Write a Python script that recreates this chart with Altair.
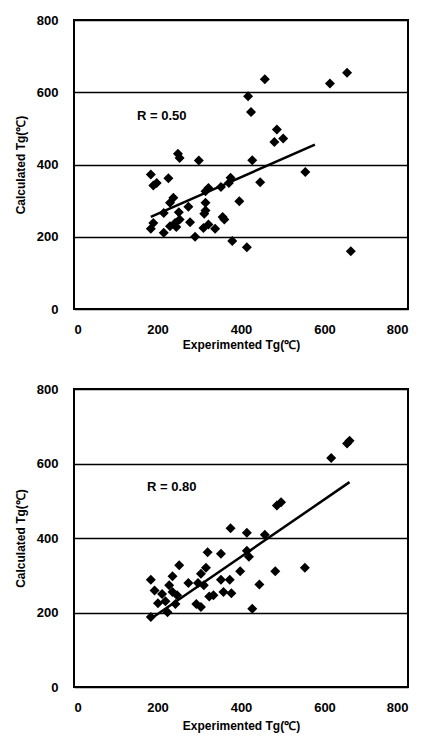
import altair as alt
import pandas as pd

# Top panel (R = 0.50)
top_x = [457, 613, 654, 417, 424, 486, 480, 501, 249, 253, 299, 427, 554, 184, 226, 190,
         198, 375, 371, 446, 352, 322, 315, 396, 238, 230, 274, 315, 315, 312, 215, 251,
         356, 360, 278, 253, 242, 230, 245, 190, 184, 322, 310, 338, 215, 290, 379, 414, 663]
top_y = [636, 624, 654, 589, 545, 497, 462, 472, 430, 418, 411, 412, 379, 372, 362, 342,
         349, 363, 349, 351, 338, 335, 326, 298, 308, 294, 283, 294, 273, 264, 266, 268,
         255, 248, 240, 248, 238, 229, 227, 238, 222, 234, 224, 222, 211, 200, 188, 171, 160]
top_line_x = [184, 577]
top_line_y = [255, 455]

# Bottom panel (R = 0.80)
bot_x = [660, 654, 616, 496, 486, 375, 414, 457, 320, 352, 414, 419, 252, 316, 304, 398,
         482, 553, 184, 236, 228, 274, 297, 352, 373, 444, 193, 211, 236, 247, 358, 377,
         219, 243, 324, 334, 293, 304, 224, 184, 427, 311, 201]
bot_y = [661, 654, 615, 496, 487, 426, 414, 409, 362, 358, 366, 350, 327, 320, 304, 311,
         311, 320, 288, 297, 273, 279, 279, 288, 288, 275, 259, 250, 255, 246, 255, 252,
         230, 223, 243, 246, 223, 215, 201, 188, 210, 273, 225]
bot_line_x = [184, 660]
bot_line_y = [183, 550]

ticks = [0, 200, 400, 600, 800]
x_title = "Experimented Tg(℃)"
y_title = "Calculated Tg(℃)"
labels_r = ["R = 0.50", "R = 0.80"]
label_pos_x = [151, 175]
label_pos_y = [534, 536]

FONT = "Liberation Sans"


def panel(xs, ys, lx, ly, rtext, rx, ry, w, h, x_title_pad):
    pts = pd.DataFrame({"x": xs, "y": ys})
    ln = pd.DataFrame({"x": lx, "y": ly})
    txt = pd.DataFrame({"x": [rx], "y": [ry], "t": [rtext]})
    xsc = alt.Scale(domain=[0, 800], nice=False)
    ysc = alt.Scale(domain=[0, 800], nice=False)
    xax = alt.Axis(values=ticks, title=x_title, grid=False, ticks=False, domain=False,
                   labelPadding=14, titlePadding=x_title_pad, labelFontSize=13, labelFontWeight="bold",
                   titleFontSize=12, titleFontWeight="bold", labelFont=FONT, titleFont=FONT,
                   labelColor="black", titleColor="black")
    yax = alt.Axis(values=ticks, title=y_title, grid=True, gridColor="black", gridWidth=1.5,
                   ticks=False, domain=False, labelPadding=16, titlePadding=9,
                   labelFontSize=13, labelFontWeight="bold", titleFontSize=12,
                   titleFontWeight="bold", labelFont=FONT, titleFont=FONT,
                   labelColor="black", titleColor="black")
    p = alt.Chart(pts).mark_point(shape="diamond", filled=True, size=100, color="black", opacity=1).encode(
        x=alt.X("x:Q", scale=xsc, axis=xax),
        y=alt.Y("y:Q", scale=ysc, axis=yax),
    )
    l = alt.Chart(ln).mark_line(color="black", strokeWidth=2.5).encode(x="x:Q", y="y:Q")
    t = alt.Chart(txt).mark_text(align="left", baseline="middle", font=FONT, fontSize=13,
                                 fontWeight="bold", color="black").encode(x="x:Q", y="y:Q", text="t:N")
    return alt.layer(p, l, t).properties(width=w, height=h)


top = panel(top_x, top_y, top_line_x, top_line_y, labels_r[0], label_pos_x[0], label_pos_y[0], 334, 289, 3)
bot = panel(bot_x, bot_y, bot_line_x, bot_line_y, labels_r[1], label_pos_x[1], label_pos_y[1], 334, 298, 6)

chart = alt.vconcat(top, bot, spacing=31).configure_view(stroke="black", strokeWidth=2)

chart.save("out.html", embed_options={"renderer": "svg", "actions": False})
